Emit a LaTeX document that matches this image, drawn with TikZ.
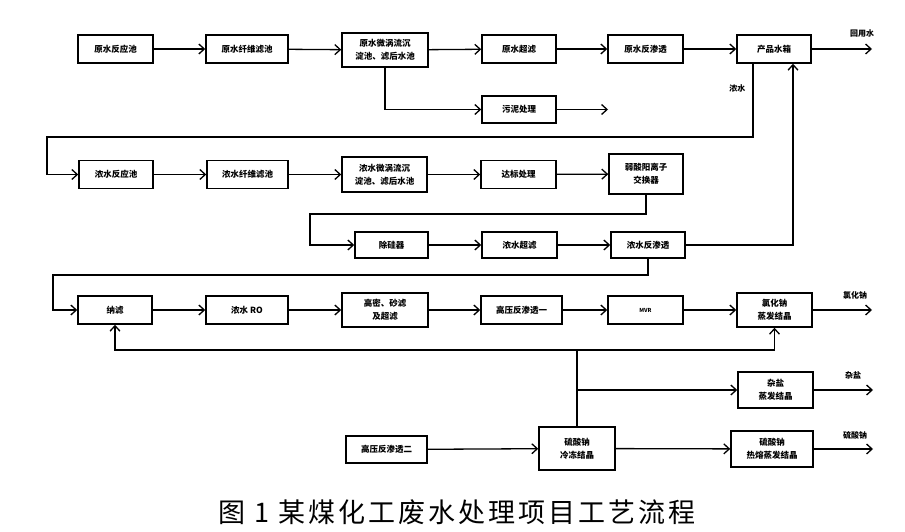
\documentclass[tikz,border=0pt]{standalone}
\usepackage{fontspec}
\usepackage{tikz}
\usetikzlibrary{arrows.meta,positioning,calc}
\newfontfamily\cjk{Noto Sans CJK SC}
\newfontfamily\cjkcap[LetterSpace=11]{Noto Sans CJK SC}

\begin{document}
\begin{tikzpicture}[
      x=1pt, y=-1pt,
      font=\cjk\bfseries\fontsize{8.5}{13}\selectfont,
      unit/.style={draw, line width=1.5pt, minimum height=28pt, inner sep=1pt,
                   align=center},
      flow/.style={line width=1.3pt,
                   -{Straight Barb[length=5.5pt,width=10pt,line width=1.3pt]}},
      pipe/.style={line width=1.3pt},
      tag/.style={font=\cjk\bfseries\fontsize{8}{9}\selectfont}]

    %% Page is 905 x 532 px, one unit = one pixel, y running downwards.
    \useasboundingbox (0,0) rectangle (905,532);

    %% ---- row 1: raw water train ----
    \node[unit, minimum width=75pt] (rwRx) at (115.5,49) {原水反应池};
    \node[unit, minimum width=82pt] (rwFf) at (247,49) {原水纤维滤池};
    \node[unit, minimum width=86pt, minimum height=34pt] (rwSed) at (385,50)
      {原水微涡流沉\\淀池、滤后水池};
    \node[unit, minimum width=74pt] (rwUf) at (519,49) {原水超滤};
    \node[unit, minimum width=75pt] (rwRO) at (645.5,49) {原水反渗透};
    \node[unit, minimum width=74pt] (tank) at (774,49) {产品水箱};
    \node[unit, minimum width=74pt, minimum height=27pt] (sludge) at (519,109.5)
      {污泥处理};
    \coordinate (outRe) at (872,49);
    \coordinate (outSl) at (608,109.5);
    \node[tag] (lbRe) at (862,33) {回用水};

    \draw[flow] (rwRx) -- (rwFf);
    \draw[flow] (rwFf) -- (rwSed);
    \draw[flow] (rwSed) -- (rwUf);
    \draw[flow] (rwUf) -- (rwRO);
    \draw[flow] (rwRO) -- (tank);
    \draw[flow] (tank) -- (outRe);
    \draw[flow] (rwSed.south) |- (sludge.west);
    \draw[flow] (sludge) -- (outSl);

    %% ---- row 2: concentrate back through its own pretreatment ----
    \node[unit, minimum width=74pt] (cwRx) at (116,174.5) {浓水反应池};
    \node[unit, minimum width=81pt] (cwFf) at (247.5,174.5) {浓水纤维滤池};
    \node[unit, minimum width=85pt, minimum height=35pt] (cwSed) at (384.5,174.5)
      {浓水微涡流沉\\淀池、滤后水池};
    \node[unit, minimum width=75pt] (cwStd) at (518.5,174.5) {达标处理};
    \node[unit, minimum width=74pt, minimum height=40pt] (wac) at (646,174)
      {弱酸阳离子\\交换器};
    \coordinate (cwTop) at (47,137);
    \node[tag, anchor=east] (lbCw) at (749,88) {浓水};

    \draw[flow] ([xshift=-21pt]tank.south) |- (cwTop) |- (cwRx.west);
    \draw[flow] (cwRx) -- (cwFf);
    \draw[flow] (cwFf) -- (cwSed);
    \draw[flow] (cwSed) -- (cwStd);
    \draw[flow] (cwStd) -- (wac);

    %% ---- row 3: silica removal, UF, RO; permeate back up to the tank ----
    \node[unit, minimum width=73pt, minimum height=26pt] (si) at (391.5,245) {除硅器};
    \node[unit, minimum width=75pt, minimum height=26pt] (cwUf) at (519.5,245) {浓水超滤};
    \node[unit, minimum width=74pt, minimum height=26pt] (cwRO) at (648,245) {浓水反渗透};
    \coordinate (siTop) at (310,214);

    \draw[flow] (wac.south) |- (siTop) |- (si.west);
    \draw[flow] (si) -- (cwUf);
    \draw[flow] (cwUf) -- (cwRO);
    \draw[flow] (cwRO.east) -| ([xshift=19pt]tank.south);

    %% ---- row 4: brine concentration to sodium chloride ----
    \node[unit, minimum width=74pt] (nf) at (115,310) {纳滤};
    \node[unit, minimum width=82pt] (cwRO2) at (247,310) {浓水 RO};
    \node[unit, minimum width=86pt, minimum height=34pt] (hds) at (385,310)
      {高密、砂滤\\及超滤};
    \node[unit, minimum width=81pt] (hpRO1) at (521.5,310) {高压反渗透一};
    \node[unit, minimum width=75pt, font=\cjk\bfseries\fontsize{5.5}{6}\selectfont]
      (mvr) at (645.5,310) {MVR};
    \node[unit, minimum width=75pt, minimum height=34pt] (naclX) at (774.5,310)
      {氯化钠\\蒸发结晶};
    \coordinate (nfTop) at (53,275);
    \coordinate (outNa) at (872,310);
    \node[tag] (lbNa) at (855,295) {氯化钠};

    \draw[flow] (cwRO.south) |- (nfTop) |- (nf.west);
    \draw[flow] (nf) -- (cwRO2);
    \draw[flow] (cwRO2) -- (hds);
    \draw[flow] (hds) -- (hpRO1);
    \draw[flow] (hpRO1) -- (mvr);
    \draw[flow] (mvr) -- (naclX);
    \draw[flow] (naclX) -- (outNa);

    %% ---- rows 5-6: mixed salt and sodium sulphate ----
    \node[unit, minimum width=75pt, minimum height=36pt] (mixX) at (775.5,390)
      {杂盐\\蒸发结晶};
    \node[unit, minimum width=81pt, minimum height=27pt] (hpRO2) at (386.5,449.5)
      {高压反渗透二};
    \node[unit, minimum width=76pt, minimum height=43pt] (sfFz) at (577,448.5)
      {硫酸钠\\冷冻结晶};
    \node[unit, minimum width=82pt, minimum height=36pt] (sfX) at (772,449)
      {硫酸钠\\热熔蒸发结晶};
    \coordinate (fb) at (577,350);
    \coordinate (outMx) at (873,390);
    \coordinate (outSf) at (873,449);
    \node[tag] (lbMx) at (853,375) {杂盐};
    \node[tag] (lbSf) at (855,435) {硫酸钠};

    %% mother liquor from the freeze crystalliser goes back to NF and NaCl
    \draw[pipe] (sfFz.north) -- (fb);
    \draw[flow] (fb) -| (nf.south);
    \draw[flow] (fb) -| (naclX.south);
    \draw[flow] (sfFz.north |- mixX.west) -- (mixX.west);
    \draw[flow] (mixX) -- (outMx);
    \draw[flow] (hpRO2) -- (sfFz);
    \draw[flow] (sfFz) -- (sfX);
    \draw[flow] (sfX) -- (outSf);

    \node[font=\cjkcap\fontsize{27}{30}\selectfont] (cap) at (457,512)
      {图 1 某煤化工废水处理项目工艺流程};
  \end{tikzpicture}
\end{document}
